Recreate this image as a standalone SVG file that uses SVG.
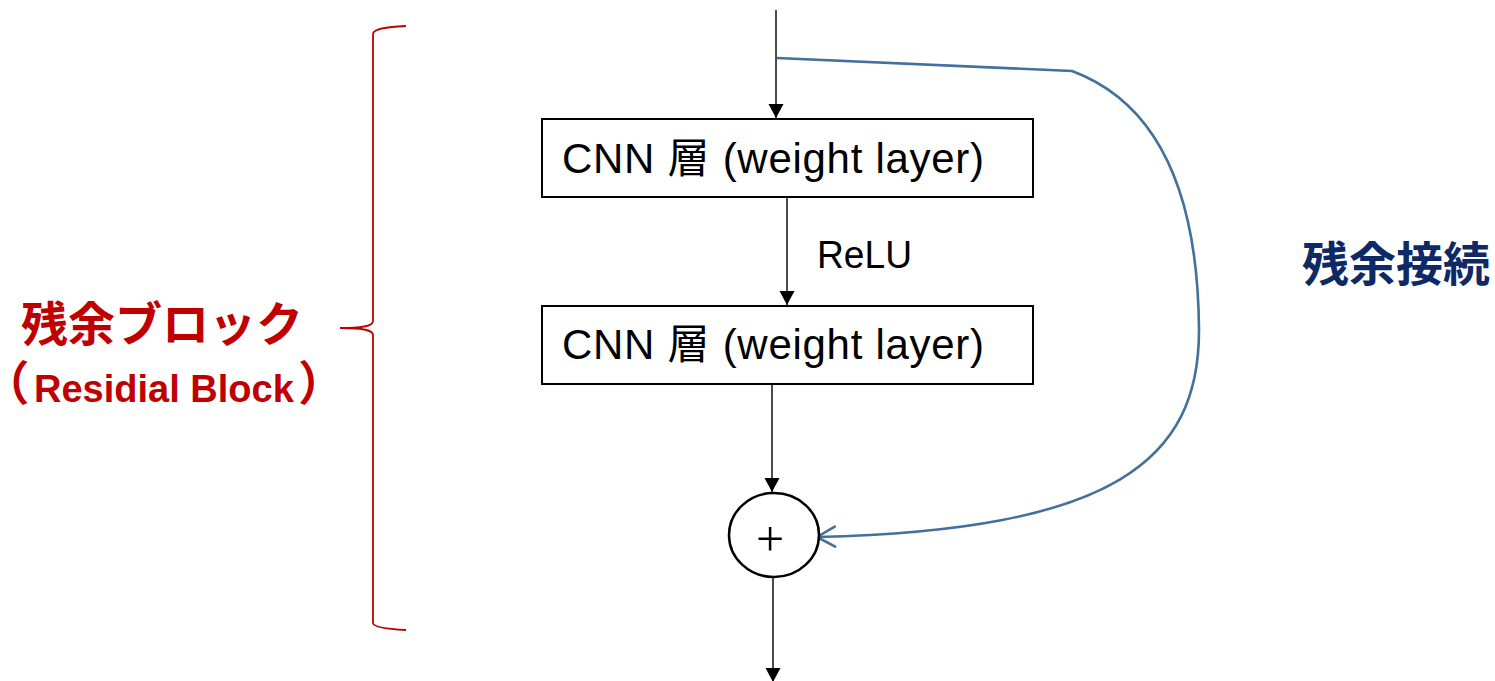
<svg xmlns="http://www.w3.org/2000/svg" width="1495" height="681" viewBox="0 0 1495 681">
  <style>
    .box { fill: #ffffff; stroke: #000000; stroke-width: 2; }
    .sum { fill: #ffffff; stroke: #000000; stroke-width: 2.5; }
    .flow { fill: none; stroke: #000000; stroke-width: 1.4; marker-end: url(#arrowSolid); }
    .skip { fill: none; stroke: #41719C; stroke-width: 2.6; marker-end: url(#arrowOpen); }
    .brace { fill: none; stroke: #C00000; stroke-width: 1.8; }
    .label { font-family: "Liberation Sans", "Noto Sans CJK JP", sans-serif; font-size: 42px; fill: #000000; }
    .jpRed { font-family: "Noto Sans CJK JP", sans-serif; font-weight: bold; font-size: 47px; fill: #C00000; }
    .paren { font-family: "Noto Sans CJK JP", sans-serif; font-feature-settings: "palt"; }
    .enRed { font-family: "Liberation Sans", sans-serif; font-weight: bold; font-size: 38px; fill: #C00000; }
    .jpBlue { font-family: "Noto Sans CJK JP", sans-serif; font-weight: bold; font-size: 47px; fill: #0E2A66; }
    .plus { font-family: "Liberation Serif", serif; font-size: 50px; fill: #000000; }
  </style>
  <defs>
    <marker id="arrowSolid" markerUnits="userSpaceOnUse" markerWidth="16" markerHeight="16" viewBox="0 0 16 16" refX="14" refY="8" orient="auto">
      <path d="M0,0.5 L14,8 L0,15.5 z" fill="#000000"/>
    </marker>
    <marker id="arrowOpen" markerUnits="userSpaceOnUse" markerWidth="24" markerHeight="26" viewBox="0 0 24 26" refX="21" refY="13" orient="auto">
      <path d="M3,3 L21,13 L3,23" fill="none" stroke="#41719C" stroke-width="2.6" stroke-linecap="round" stroke-linejoin="round"/>
    </marker>
  </defs>

  <!-- connectors -->
  <g id="connectors">
    <line class="flow" x1="776" y1="10" x2="776" y2="118"/>
    <line class="flow" x1="787" y1="197" x2="787" y2="305"/>
    <line class="flow" x1="772" y1="384" x2="772" y2="492"/>
    <line class="flow" x1="773" y1="577" x2="773" y2="682"/>
    <path class="skip" d="M777,58 L1072,71 C1150,100 1198,180 1199,330 C1199,460 1115,530 817,537"/>
  </g>

  <!-- first weight layer -->
  <g id="layer1">
    <rect class="box" x="542" y="119" width="491" height="78"/>
    <text class="label" x="562" y="173" textLength="422" lengthAdjust="spacing">CNN 層 (weight layer)</text>
  </g>

  <!-- activation label -->
  <g id="relu">
    <text class="label" x="817" y="268" textLength="95" lengthAdjust="spacingAndGlyphs" style="font-size:39px">ReLU</text>
  </g>

  <!-- second weight layer -->
  <g id="layer2">
    <rect class="box" x="542" y="306" width="491" height="78"/>
    <text class="label" x="562" y="359" textLength="422" lengthAdjust="spacing">CNN 層 (weight layer)</text>
  </g>

  <!-- addition node -->
  <g id="add">
    <ellipse class="sum" cx="774" cy="535" rx="45" ry="42"/>
    <text class="plus" x="770" y="556" text-anchor="middle">+</text>
  </g>

  <!-- bracket around the block -->
  <g id="bracket">
    <path class="brace" d="M406,26 C386,27 373,29 373,34 L373,321 C373,326 364,328 340,328"/>
    <path class="brace" d="M340,328 C364,328 373,330 373,335 L373,623 C373,627 386,629 406,630"/>
  </g>

  <!-- block caption -->
  <g id="blockLabel">
    <text class="jpRed" x="21" y="341">残余ブロック</text>
    <text class="enRed" y="402"><tspan class="paren" x="4" y="400" style="font-size:47px">（</tspan><tspan x="34" y="402">Residial Block</tspan><tspan class="paren" x="300" y="400" style="font-size:47px">）</tspan></text>
  </g>

  <!-- skip connection caption -->
  <g id="skipLabel">
    <text class="jpBlue" x="1302" y="281">残余接続</text>
  </g>
</svg>
